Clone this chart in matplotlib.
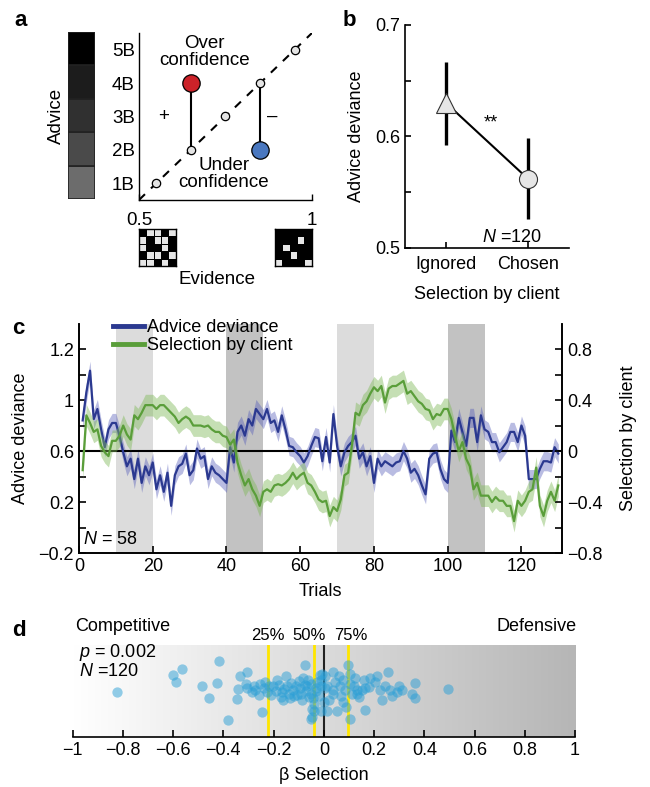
import numpy as np
import matplotlib
matplotlib.use("Agg")
import matplotlib.pyplot as plt
from matplotlib.colors import ListedColormap, LinearSegmentedColormap

plt.rcParams["font.family"] = ["Liberation Sans", "DejaVu Sans"]
plt.rcParams["font.size"] = 13
plt.rcParams["mathtext.fontset"] = "custom"
plt.rcParams["mathtext.rm"] = "Liberation Sans"
plt.rcParams["mathtext.it"] = "Liberation Sans:italic"
plt.rcParams["xtick.direction"] = "in"
plt.rcParams["ytick.direction"] = "in"
plt.rcParams["axes.linewidth"] = 1.2
plt.rcParams["xtick.major.width"] = 1.2
plt.rcParams["ytick.major.width"] = 1.2
plt.rcParams["ytick.minor.width"] = 1.2

# ── panel a: advice scale / calibration sketch ────────────────────────
advice_levels = [1, 2, 3, 4, 5]
advice_labels = ["1B", "2B", "3B", "4B", "5B"]
advice_shades = ["#6c6c6c", "#4a4a4a", "#303030", "#1c1c1c", "#000000"]
ideal_evidence = [0.55, 0.65, 0.75, 0.85, 0.95]
over_x, over_from, over_to = 0.65, 2, 4
under_x, under_from, under_to = 0.85, 4, 2
grid_low = [[0, 1, 1, 0, 1],
            [1, 0, 1, 1, 0],
            [1, 0, 0, 1, 0],
            [0, 1, 1, 0, 1],
            [1, 1, 0, 1, 0]]
grid_high = [[0, 0, 0, 0, 0],
             [0, 0, 0, 1, 0],
             [0, 1, 0, 0, 0],
             [0, 0, 1, 0, 0],
             [1, 0, 0, 0, 1]]

# ── panel b ───────────────────────────────────────────────────────────
sel_cats = ["Ignored", "Chosen"]
sel_mean = [0.630, 0.562]
sel_low = [0.592, 0.526]
sel_high = [0.667, 0.599]

# ── panel c: time courses over 130 trials ─────────────────────────────
trials = np.arange(1, 131)
advice_dev = [
    0.84, 1.06, 1.23, 0.85, 0.93, 0.77, 0.63, 0.77, 0.82, 0.82,
    0.72, 0.59, 0.48, 0.54, 0.38, 0.54, 0.35, 0.48, 0.41, 0.51,
    0.30, 0.41, 0.28, 0.43, 0.17, 0.41, 0.48, 0.50, 0.58, 0.41,
    0.45, 0.62, 0.54, 0.56, 0.38, 0.48, 0.43, 0.41, 0.38, 0.35,
    0.63, 0.51, 0.75, 0.80, 0.72, 0.85, 0.80, 0.93, 0.89, 0.85,
    0.93, 0.82, 0.84, 0.75, 0.88, 0.77, 0.64, 0.63, 0.59, 0.56,
    0.51, 0.56, 0.64, 0.71, 0.70, 0.52, 0.71, 0.51, 0.89, 0.64,
    0.48, 0.59, 0.64, 0.67, 0.72, 0.54, 0.59, 0.48, 0.56, 0.35,
    0.54, 0.48, 0.52, 0.50, 0.48, 0.51, 0.52, 0.60, 0.54, 0.43,
    0.46, 0.41, 0.33, 0.26, 0.54, 0.58, 0.59, 0.46, 0.38, 0.35,
    0.76, 0.67, 0.86, 0.75, 0.64, 0.86, 0.86, 0.67, 0.88, 0.77,
    0.75, 0.67, 0.67, 0.59, 0.63, 0.67, 0.75, 0.75, 0.67, 0.80,
    0.72, 0.38, 0.38, 0.38, 0.46, 0.52, 0.52, 0.51, 0.63, 0.58,
]
selection = [
    -0.15, 0.28, 0.22, 0.15, 0.17, 0.04, -0.01, -0.04, 0.08, 0.08,
    0.12, 0.20, 0.13, 0.09, 0.28, 0.25, 0.30, 0.36, 0.36, 0.36,
    0.33, 0.36, 0.36, 0.33, 0.30, 0.27, 0.22, 0.25, 0.27, 0.25,
    0.20, 0.20, 0.20, 0.19, 0.20, 0.17, 0.15, 0.15, 0.12, 0.11,
    0.05, 0.09, -0.09, -0.19, -0.27, -0.22, -0.30, -0.35, -0.43, -0.32,
    -0.30, -0.32, -0.27, -0.26, -0.27, -0.25, -0.22, -0.17, -0.22, -0.19,
    -0.17, -0.25, -0.27, -0.32, -0.38, -0.40, -0.39, -0.51, -0.44, -0.47,
    -0.38, -0.19, -0.17, 0.04, 0.30, 0.28, 0.36, 0.39, 0.45, 0.50,
    0.47, 0.51, 0.38, 0.49, 0.51, 0.51, 0.53, 0.55, 0.45, 0.47,
    0.43, 0.39, 0.37, 0.33, 0.32, 0.25, 0.29, 0.28, 0.33, 0.33,
    0.25, 0.12, 0.00, 0.07, -0.06, -0.12, -0.30, -0.25, -0.35, -0.35,
    -0.35, -0.40, -0.36, -0.39, -0.39, -0.43, -0.43, -0.55, -0.39, -0.43,
    -0.39, -0.32, -0.30, -0.13, -0.43, -0.51, -0.39, -0.32, -0.39, -0.27,
]
advice_sem = 0.075
selection_sem = 0.085
block_starts = [10, 40, 70, 100]
block_shades = ["#dcdcdc", "#c2c2c2", "#dcdcdc", "#c2c2c2"]
left_tick_pos = [-0.2, 0.2, 0.6, 1.0, 1.4]
left_tick_lab = ["\u22120.2", "0.2", "0.6", "1", "1.2"]
right_tick_pos = [-0.8, -0.4, 0.0, 0.4, 0.8]
right_tick_lab = ["\u22120.8", "\u22120.4", "0", "0.4", "0.8"]

# ── panel d: beta selection per subject ───────────────────────────────
beta_x = [
    -0.825, -0.600, -0.590, -0.566, -0.416, -0.487, -0.456, -0.427, -0.380, -0.347,
    -0.340, -0.334, -0.307, -0.305, -0.287, -0.274, -0.254, -0.247, -0.234, -0.228,
    -0.212, -0.201, -0.185, -0.168, -0.161, -0.148, -0.135, -0.122, -0.108, -0.095,
    -0.088, -0.075, -0.068, -0.048, -0.048, -0.042, -0.028, -0.015, 0.038, 0.098,
    0.257, 0.364, 0.496, 0.364, 0.351, 0.164, 0.231, 0.105, -0.053, -0.040,
    -0.013, 0.013, 0.053, 0.078, 0.111, 0.131, 0.151, 0.158, 0.184, 0.211,
    0.204, 0.244, 0.264, 0.291, 0.311, 0.038, 0.085, 0.078, 0.125, 0.131,
    -0.075, -0.081, -0.013, -0.006, 0.006, -0.033, -0.053, 0.006, 0.013, 0.038,
    0.065, 0.105, 0.105, 0.164, 0.224, -0.280, -0.260, -0.240, -0.220, -0.190,
    -0.180, -0.160, -0.140, -0.130, -0.120, -0.110, -0.100, -0.090, -0.070, -0.060,
    -0.050, -0.030, -0.020, -0.010, -0.040, -0.150, -0.310, 0.020, 0.045, 0.070,
    0.090, 0.120, 0.140, 0.180, 0.270, 0.300, -0.065, 0.000, 0.060, -0.170,
]
beta_y = [
    0.49, 0.67, 0.60, 0.74, 0.83, 0.55, 0.42, 0.59, 0.19, 0.41,
    0.52, 0.66, 0.71, 0.53, 0.49, 0.51, 0.58, 0.27, 0.60, 0.49,
    0.46, 0.56, 0.62, 0.49, 0.40, 0.56, 0.42, 0.51, 0.46, 0.53,
    0.40, 0.78, 0.55, 0.22, 0.31, 0.42, 0.60, 0.67, 0.71, 0.78,
    0.71, 0.59, 0.52, 0.42, 0.47, 0.29, 0.40, 0.20, 0.20, 0.28,
    0.28, 0.28, 0.28, 0.38, 0.47, 0.51, 0.51, 0.62, 0.64, 0.66,
    0.60, 0.55, 0.51, 0.49, 0.51, 0.51, 0.51, 0.62, 0.64, 0.47,
    0.57, 0.64, 0.62, 0.69, 0.53, 0.53, 0.47, 0.66, 0.55, 0.47,
    0.55, 0.69, 0.58, 0.53, 0.51, 0.56, 0.46, 0.53, 0.55, 0.50,
    0.57, 0.52, 0.47, 0.59, 0.45, 0.55, 0.61, 0.47, 0.50, 0.44,
    0.58, 0.50, 0.45, 0.55, 0.36, 0.66, 0.58, 0.40, 0.60, 0.45,
    0.33, 0.55, 0.44, 0.54, 0.45, 0.55, 0.62, 0.38, 0.66, 0.44,
]
quartile_vals = [-0.221, -0.039, 0.096]
quartile_labels = ["25%", "50%", "75%"]
beta_ticks = [-1, -0.8, -0.6, -0.4, -0.2, 0, 0.2, 0.4, 0.6, 0.8, 1]
beta_tick_lab = ["\u22121", "\u22120.8", "\u22120.6", "\u22120.4", "\u22120.2",
                 "0", "0.2", "0.4", "0.6", "0.8", "1"]

BLUE = "#2b3990"
GREEN = "#5a9e3a"

fig = plt.figure(figsize=(6.5, 7.87), dpi=100)

# ── a ─────────────────────────────────────────────────────────────────
ax_s = fig.add_axes([0.1046, 0.7471, 0.0415, 0.2122])
for lvl, shade in zip(advice_levels, advice_shades):
    ax_s.bar(0, 1, bottom=lvl - 0.5, width=1, color=shade,
             edgecolor="#222222", linewidth=1.2)
ax_s.set_xlim(-0.5, 0.5)
ax_s.set_ylim(0.5, 5.5)
ax_s.set_xticks([])
ax_s.set_yticks([])
for sp in ax_s.spines.values():
    sp.set_visible(False)
ax_s.set_ylabel("Advice", fontsize=13.5, labelpad=2)

ax_a = fig.add_axes([0.2138, 0.7459, 0.2662, 0.2122])
ax_a.set_xlim(0.5, 1)
ax_a.set_ylim(0.5, 5.5)
ax_a.axline((ideal_evidence[0], advice_levels[0]),
            (ideal_evidence[-1], advice_levels[-1]),
            color="k", lw=1.5, ls=(0, (4, 4)), zorder=1)
ax_a.plot([over_x, over_x], [over_from, over_to], color="k", lw=1.5, zorder=2)
ax_a.plot([under_x, under_x], [under_from, under_to], color="k", lw=1.5, zorder=2)
ax_a.plot(ideal_evidence, advice_levels, "o", ms=6, mfc="#e4e4e4", mec="k",
          mew=0.9, ls="none", zorder=3)
ax_a.plot([over_x], [over_to], "o", ms=12.5, mfc="#cc2229", mec="k", mew=0.9, zorder=4)
ax_a.plot([under_x], [under_to], "o", ms=12.5, mfc="#4a78c0", mec="k", mew=0.9, zorder=4)
ax_a.text(0.69, 4.92, "Over\nconfidence", ha="center", va="center",
          fontsize=13.5, linespacing=1.0)
ax_a.text(0.745, 1.27, "Under\nconfidence", ha="center", va="center",
          fontsize=13.5, linespacing=1.0)
ax_a.text(0.57, 3.0, "+", ha="center", va="center", fontsize=13.5)
ax_a.text(0.885, 3.0, "\u2013", ha="center", va="center", fontsize=13.5)
ax_a.set_yticks(advice_levels)
ax_a.set_yticklabels(advice_labels, fontsize=13.5)
ax_a.tick_params(axis="y", length=0, pad=3)
ax_a.set_xticks([0.5, 1])
ax_a.set_xticklabels(["0.5", "1"], fontsize=13.5)
ax_a.tick_params(axis="x", length=4, width=1, pad=9)
for side in ["top", "right"]:
    ax_a.spines[side].set_visible(False)
for side in ["left", "bottom"]:
    ax_a.spines[side].set_linewidth(1)

grid_cmap = ListedColormap(["#000000", "#e6e6e6"])
for grid, left in [(grid_low, 0.2138), (grid_high, 0.4231)]:
    ax_g = fig.add_axes([left, 0.662, 0.0562, 0.047])
    ax_g.pcolormesh(np.array(grid)[::-1], cmap=grid_cmap, vmin=0, vmax=1,
                    edgecolors="#000000", linewidth=0.5)
    ax_g.set_xticks([])
    ax_g.set_yticks([])
    for sp in ax_g.spines.values():
        sp.set_linewidth(1)
fig.text(217 / 650, 1 - 280 / 787, "Evidence", ha="center", va="center", fontsize=13.5)

# ── b ─────────────────────────────────────────────────────────────────
ax_b = fig.add_axes([0.6231, 0.6849, 0.2523, 0.2834])
xb = np.arange(1, len(sel_cats) + 1)
ax_b.vlines(xb, sel_low, sel_high, color="k", lw=2.4, zorder=1)
ax_b.plot(xb, sel_mean, color="k", lw=1.5, zorder=2)
ax_b.plot(xb[0], sel_mean[0], "^", ms=15, mfc="#e6e6e6", mec="#333333", mew=0.8, zorder=3)
ax_b.plot(xb[1], sel_mean[1], "o", ms=13, mfc="#e6e6e6", mec="#333333", mew=0.8, zorder=3)
ax_b.set_xlim(0.5, 2.5)
ax_b.set_ylim(0.5, 0.7)
ax_b.set_xticks(xb)
ax_b.set_xticklabels(sel_cats)
ax_b.set_yticks([0.5, 0.6, 0.7])
ax_b.set_yticklabels(["0.5", "0.6", "0.7"])
ax_b.set_yticks([0.55, 0.65], minor=True)
ax_b.tick_params(axis="y", which="both", length=4)
ax_b.tick_params(axis="x", length=4, pad=6)
ax_b.text(1.55, 0.612, "**", ha="center", va="center", fontsize=13)
ax_b.text(1.8, 0.509, "$N$ =120", ha="center", va="center")
ax_b.set_xlabel("Selection by client", labelpad=9)
ax_b.set_ylabel("Advice deviance", labelpad=7)
for side in ["top", "right"]:
    ax_b.spines[side].set_visible(False)

# ── c ─────────────────────────────────────────────────────────────────
ax_c = fig.add_axes([0.1215, 0.2973, 0.7431, 0.2916])
ax_r = ax_c.twinx()
for start, shade in zip(block_starts, block_shades):
    ax_c.axvspan(start, start + 10, color=shade, lw=0, zorder=0)
adv = np.array(advice_dev)
sel = np.array(selection)
ax_c.fill_between(trials, adv - advice_sem, adv + advice_sem, color="#5058b8",
                  alpha=0.4, lw=0, zorder=1)
ax_c.axhline(0.6, color="k", lw=1.5, zorder=2)
ax_c.plot(trials, adv, color=BLUE, lw=1.6, zorder=3)
ax_r.fill_between(trials, sel - selection_sem, sel + selection_sem, color="#80b95a",
                  alpha=0.45, lw=0, zorder=1)
ax_r.plot(trials, sel, color=GREEN, lw=1.6, zorder=3)
ax_c.set_xlim(0, 131)
ax_c.set_ylim(-0.2, 1.6)
ax_r.set_ylim(-0.8, 1.0)
ax_c.set_yticks(left_tick_pos)
ax_c.set_yticklabels(left_tick_lab)
ax_c.set_yticks([0.0, 0.4, 0.8, 1.2], minor=True)
ax_r.set_yticks(right_tick_pos)
ax_r.set_yticklabels(right_tick_lab)
ax_r.set_yticks([-0.6, -0.2, 0.2, 0.6], minor=True)
ax_c.set_xticks(np.arange(0, 121, 20))
for a in (ax_c, ax_r):
    a.tick_params(axis="y", which="both", length=5)
    a.spines["top"].set_visible(False)
ax_c.tick_params(axis="x", length=5)
ax_c.set_xlabel("Trials", labelpad=6)
ax_c.set_ylabel("Advice deviance", labelpad=7)
ax_r.set_ylabel("Selection by client", rotation=90, labelpad=13)
lh1, = ax_c.plot([], [], color=BLUE, lw=3.5)
lh2, = ax_c.plot([], [], color=GREEN, lw=3.5)
ax_c.legend([lh1, lh2], ["Advice deviance", "Selection by client"],
            loc="upper left", bbox_to_anchor=(0.07, 1.02), frameon=False,
            handlelength=1.75, handletextpad=0.15, borderaxespad=0,
            borderpad=0, labelspacing=0.05, fontsize=13)
ax_c.text(0.008, 0.02, "$N$ = 58", transform=ax_c.transAxes, ha="left",
          va="bottom", fontsize=13)

# ── d ─────────────────────────────────────────────────────────────────
ax_d = fig.add_axes([0.1118, 0.0635, 0.7728, 0.1169])
grad_cmap = LinearSegmentedColormap.from_list("g", ["#ffffff", "#b6b6b6"])
ax_d.imshow(np.linspace(0, 1, 256)[None, :], cmap=grad_cmap, aspect="auto",
            extent=(-1, 1, 0, 1), zorder=0)
ax_d.axvline(0, color="#222222", lw=1.5, zorder=1)
label_shift = [0.0, -0.018, 0.012]
for q, lab, dx in zip(quartile_vals, quartile_labels, label_shift):
    ax_d.axvline(q, color="#ffe600", lw=2, zorder=1)
    ax_d.text(q + dx, 1.1, lab, ha="center", va="center", fontsize=12)
ax_d.scatter(beta_x, beta_y, s=55, color="#2a9fd6", alpha=0.5, lw=0, zorder=2)
ax_d.set_xlim(-1, 1)
ax_d.set_ylim(0, 1)
ax_d.set_xticks(beta_ticks)
ax_d.set_xticklabels(beta_tick_lab)
ax_d.tick_params(axis="x", length=5)
ax_d.set_yticks([])
for side in ["top", "right", "left"]:
    ax_d.spines[side].set_visible(False)
ax_d.set_xlabel("\u03b2 Selection", labelpad=6)
ax_d.text(0.004, 1.2, "Competitive", transform=ax_d.transAxes, ha="left",
          va="center", fontsize=13)
ax_d.text(1.004, 1.2, "Defensive", transform=ax_d.transAxes, ha="right",
          va="center", fontsize=13)
ax_d.text(0.012, 0.92, "$p$ = 0.002", transform=ax_d.transAxes, ha="left",
          va="center", fontsize=13)
ax_d.text(0.012, 0.71, "$N$ =120", transform=ax_d.transAxes, ha="left",
          va="center", fontsize=13)

# panel letters
for letter, (px, py) in {"a": (14, 20), "b": (343, 20), "c": (12, 328),
                         "d": (12, 630)}.items():
    fig.text(px / 650, 1 - py / 787, letter, fontsize=16, fontweight="bold",
             ha="left", va="center")

fig.savefig("out.png", dpi=100)
